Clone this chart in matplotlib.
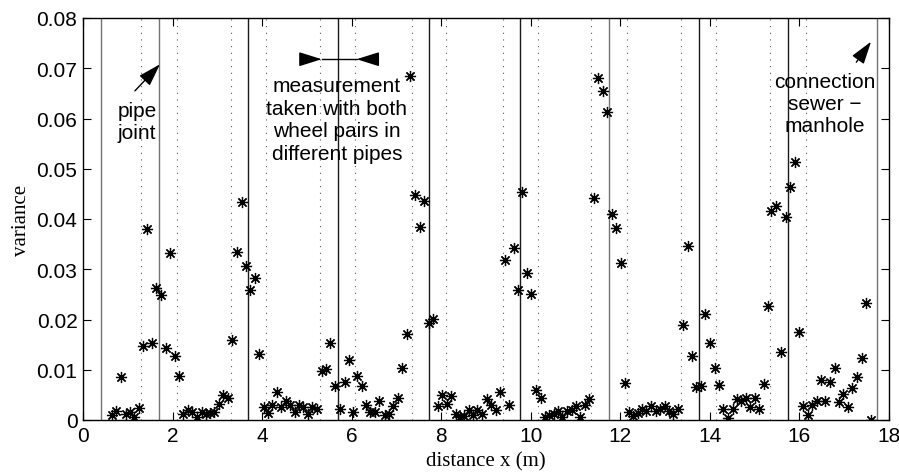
import numpy as np
import matplotlib
matplotlib.use('Agg')
import matplotlib.pyplot as plt

# --- data ---
x_m = [0.64, 0.74, 0.85, 0.96, 1.05, 1.15, 1.25, 1.33, 1.44, 1.55, 1.64, 1.75,
       1.85, 1.94, 2.05, 2.14, 2.24, 2.34, 2.43, 2.54, 2.65, 2.74, 2.83, 2.92,
       3.03, 3.13, 3.24, 3.33, 3.44, 3.54, 3.64, 3.74, 3.85, 3.94, 4.04, 4.13,
       4.23, 4.33, 4.43, 4.54, 4.63, 4.73, 4.83, 4.92, 5.02, 5.12, 5.22, 5.33,
       5.43, 5.52, 5.63, 5.73, 5.84, 5.93, 6.02, 6.13, 6.22, 6.32, 6.42, 6.52,
       6.62, 6.74, 6.83, 6.93, 7.03, 7.12, 7.23, 7.31, 7.41, 7.52, 7.62, 7.72,
       7.82, 7.92, 8.01, 8.12, 8.22, 8.32, 8.42, 8.51, 8.62, 8.71, 8.81, 8.92,
       9.02, 9.12, 9.22, 9.32, 9.42, 9.51, 9.62, 9.72, 9.81, 9.91, 10.01, 10.11,
       10.22, 10.31, 10.41, 10.51, 10.61, 10.70, 10.81, 10.91, 11.01, 11.11,
       11.21, 11.31, 11.41, 11.50, 11.61, 11.70, 11.81, 11.91, 12.01, 12.10,
       12.19, 12.28, 12.40, 12.49, 12.58, 12.69, 12.79, 12.88, 12.99, 13.09,
       13.18, 13.29, 13.40, 13.51, 13.60, 13.70, 13.80, 13.90, 14.00, 14.11,
       14.21, 14.30, 14.41, 14.51, 14.60, 14.69, 14.80, 14.89, 15.00, 15.09,
       15.20, 15.30, 15.37, 15.48, 15.59, 15.71, 15.78, 15.89, 15.99, 16.09,
       16.19, 16.29, 16.39, 16.49, 16.58, 16.68, 16.80, 16.88, 16.98, 17.08,
       17.18, 17.29, 17.40, 17.49, 17.59]
variance = [0.0009, 0.0017, 0.0085, 0.0011, 0.0015, 0.0005, 0.0024, 0.0148,
            0.0381, 0.0154, 0.0263, 0.0249, 0.0143, 0.0332, 0.0127, 0.0087,
            0.0012, 0.0019, 0.0016, 0.0005, 0.0015, 0.0011, 0.0014, 0.0015,
            0.0032, 0.0050, 0.0043, 0.0159, 0.0334, 0.0433, 0.0306, 0.0259,
            0.0282, 0.0131, 0.0026, 0.0014, 0.0030, 0.0055, 0.0025, 0.0037,
            0.0029, 0.0016, 0.0029, 0.0025, 0.0012, 0.0025, 0.0022, 0.0097,
            0.0102, 0.0154, 0.0067, 0.0022, 0.0075, 0.0119, 0.0015, 0.0087,
            0.0067, 0.0030, 0.0015, 0.0016, 0.0038, 0.0009, 0.0012, 0.0028,
            0.0044, 0.0103, 0.0171, 0.0685, 0.0448, 0.0385, 0.0435, 0.0194,
            0.0201, 0.0028, 0.0050, 0.0031, 0.0048, 0.0011, 0.0006, 0.0008,
            0.0019, 0.0009, 0.0019, 0.0012, 0.0041, 0.0030, 0.0019, 0.0055,
            0.0319, 0.0030, 0.0342, 0.0259, 0.0453, 0.0293, 0.0251, 0.0059,
            0.0044, 0.0006, 0.0009, 0.0011, 0.0017, 0.0006, 0.0017, 0.0020,
            0.0028, 0.0006, 0.0030, 0.0042, 0.0441, 0.0681, 0.0654, 0.0612,
            0.0410, 0.0383, 0.0312, 0.0073, 0.0015, 0.0008, 0.0013, 0.0021,
            0.0017, 0.0028, 0.0017, 0.0021, 0.0028, 0.0017, 0.0011, 0.0021,
            0.0190, 0.0347, 0.0128, 0.0066, 0.0067, 0.0211, 0.0153, 0.0103,
            0.0069, 0.0022, 0.0004, 0.0021, 0.0041, 0.0038, 0.0044, 0.0025,
            0.0044, 0.0022, 0.0071, 0.0226, 0.0415, 0.0425, 0.0135, 0.0403,
            0.0464, 0.0513, 0.0175, 0.0028, 0.0010, 0.0030, 0.0037, 0.0080,
            0.0037, 0.0076, 0.0103, 0.0035, 0.0051, 0.0025, 0.0064, 0.0085,
            0.0124, 0.0233, 0.0000]

pipe_joints = [0.40, 1.70, 3.69, 5.69, 7.72, 9.77, 11.75, 13.76, 15.74, 17.74]
joint_grey = [True, True, False, False, False, False, True, False, False, True]
wheel_pos = [1.29, 2.09, 3.30, 4.08, 5.29, 6.07, 7.34, 8.10, 9.37, 10.16,
             11.35, 12.15, 13.36, 14.14, 15.35, 16.15]

x_ticks = [0, 2, 4, 6, 8, 10, 12, 14, 16, 18]
y_ticks = [0, 0.01, 0.02, 0.03, 0.04, 0.05, 0.06, 0.07, 0.08]
y_ticklabels = ['0', '0.01', '0.02', '0.03', '0.04', '0.05', '0.06', '0.07', '0.08']

sans = 'Liberation Sans'
serif = 'Liberation Serif'
fs = 15

fig = plt.figure(figsize=(8.99, 4.77), dpi=100)
ax = fig.add_axes([83/899, 56/477, 806/899, 402/477])

for xj, grey in zip(pipe_joints, joint_grey):
    ax.axvline(xj, color='0.45' if grey else '0.1', linewidth=1.0, zorder=1)
for xw in wheel_pos:
    ax.axvline(xw, color='0.35', linewidth=0.8, linestyle=(0, (1, 5)), zorder=1)

ax.plot(x_m, variance, linestyle='none', marker=(8, 2, 0), markersize=8,
        markeredgewidth=0.9, color='k', zorder=3)

ax.set_xlim(0, 18)
ax.set_ylim(0, 0.08)
ax.set_xticks(x_ticks)
ax.set_xticklabels([str(t) for t in x_ticks], fontfamily=sans, fontsize=fs)
ax.set_yticks(y_ticks)
ax.set_yticklabels(y_ticklabels, fontfamily=sans, fontsize=fs)
ax.tick_params(direction='in', length=6, width=0.8, top=True, right=True, pad=4)
for s in ax.spines.values():
    s.set_linewidth(1.0)

ax.set_xlabel('distance x (m)', fontfamily=serif, fontsize=fs, labelpad=5)
ax.set_ylabel('variance', fontfamily=serif, fontsize=fs, labelpad=4)

# annotations
head = '-|>,head_length=0.7,head_width=0.22'
arrow = dict(arrowstyle=head, color='k', lw=1, shrinkA=0, shrinkB=0, mutation_scale=20)

ax.annotate('', xy=(1.72, 0.0708), xytext=(1.16, 0.0655), arrowprops=arrow)
ax.text(1.21, 0.0595, 'pipe\njoint', ha='center', va='center',
        fontfamily=sans, fontsize=fs)

ax.plot([5.33, 6.11], [0.0718, 0.0718], color='k', linewidth=1)
ax.annotate('', xy=(5.33, 0.0718), xytext=(4.88, 0.0718), arrowprops=arrow)
ax.annotate('', xy=(6.11, 0.0718), xytext=(6.52, 0.0718), arrowprops=arrow)
ax.text(5.67, 0.0598, 'measurement\ntaken with both\nwheel pairs in\ndifferent pipes',
        ha='center', va='center', fontfamily=sans, fontsize=fs, linespacing=1.25)

ax.annotate('', xy=(17.60, 0.0753), xytext=(17.27, 0.0712), arrowprops=arrow)
ax.text(16.56, 0.0629, 'connection\nsewer \u2212\nmanhole', ha='center', va='center',
        fontfamily=sans, fontsize=fs)

fig.savefig('out.png', dpi=100)
